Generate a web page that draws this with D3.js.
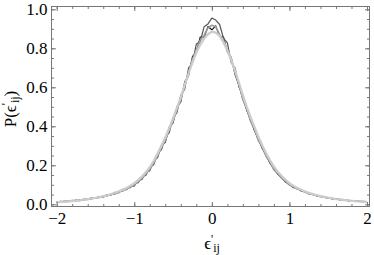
<!DOCTYPE html>
<html>
<head>
<meta charset="utf-8">
<script src="https://cdn.jsdelivr.net/npm/d3@7"></script>
<style>
  body { margin: 0; background: #fff; }
  svg text { font-family: "Liberation Serif"; }
</style>
</head>
<body>
<div id="chart"></div>
<script>
// chart size
var svgWidth = 374;
var svgHeight = 255;
var serif = "Liberation Serif";

// bins along the x axis (-2 .. 2, width 0.05)
var xBins = d3.range(81).map(i => -2 + i * 0.05);

// histograms, one list per run
var blackVals = [0.010,0.015,0.012,0.018,0.015,0.022,0.019,0.026,0.025,0.033,0.031,0.040,0.037,0.049,0.047,0.061,0.059,0.077,0.075,0.096,0.094,0.124,0.128,0.165,0.172,0.224,0.240,0.302,0.318,0.395,0.418,0.500,0.525,0.628,0.660,0.758,0.778,0.858,0.855,0.912,0.895,
  0.915,0.862,0.858,0.780,0.752,0.664,0.610,0.538,0.486,0.428,0.380,0.330,0.289,0.248,0.212,0.180,0.156,0.134,0.115,0.100,0.089,0.080,0.071,0.063,0.056,0.050,0.044,0.040,0.035,0.033,0.029,0.027,0.023,0.022,0.020,0.017,0.017,0.014,0.014,0.011];

var darkVals = [0.012,0.013,0.017,0.014,0.020,0.018,0.024,0.022,0.029,0.028,0.035,0.034,0.042,0.043,0.053,0.052,0.066,0.067,0.084,0.086,0.107,0.111,0.141,0.149,0.188,0.203,0.260,0.280,0.344,0.366,0.445,0.470,0.560,0.590,0.700,0.725,0.822,0.835,0.910,0.925,0.955,
  0.945,0.922,0.852,0.828,0.726,0.698,0.600,0.562,0.480,0.447,0.377,0.344,0.286,0.261,0.211,0.189,0.154,0.143,0.113,0.107,0.085,0.084,0.068,0.066,0.053,0.052,0.043,0.042,0.035,0.034,0.028,0.029,0.022,0.024,0.018,0.019,0.015,0.016,0.012,0.014];

var grayVals = [0.011,0.013,0.013,0.017,0.016,0.021,0.020,0.025,0.025,0.031,0.031,0.037,0.039,0.045,0.049,0.056,0.061,0.071,0.078,0.091,0.099,0.118,0.132,0.158,0.178,0.215,0.247,0.294,0.326,0.385,0.425,0.490,0.534,0.615,0.668,0.745,0.788,0.842,0.866,0.905,0.918,
  0.910,0.870,0.844,0.790,0.748,0.672,0.618,0.536,0.492,0.425,0.388,0.326,0.297,0.246,0.218,0.177,0.160,0.133,0.120,0.099,0.092,0.078,0.073,0.062,0.058,0.049,0.046,0.039,0.037,0.032,0.031,0.026,0.026,0.021,0.021,0.017,0.018,0.014,0.015,0.012];

var lightVals = [0.010,0.012,0.013,0.015,0.017,0.019,0.021,0.024,0.027,0.030,0.033,0.037,0.042,0.046,0.052,0.058,0.066,0.074,0.084,0.095,0.108,0.124,0.143,0.165,0.190,0.222,0.260,0.300,0.342,0.390,0.440,0.494,0.548,0.612,0.672,0.728,0.778,0.818,0.850,0.872,0.885,
  0.880,0.864,0.830,0.790,0.740,0.684,0.622,0.558,0.500,0.446,0.396,0.346,0.302,0.262,0.226,0.193,0.167,0.145,0.125,0.108,0.095,0.084,0.075,0.066,0.059,0.052,0.047,0.042,0.038,0.034,0.031,0.027,0.025,0.022,0.020,0.018,0.016,0.015,0.013,0.012];

// tick values
var xMajor = [-2, -1, 0, 1, 2];
var xMinor = d3.range(-2, 2.001, 0.2);
var yMajor = [0, 0.2, 0.4, 0.6, 0.8, 1.0];
var yMinor = d3.range(0, 1.001, 0.05);

// frame box
var frame = { left: 51.5, right: 369.5, top: 6.5, bottom: 206.5 };

var svg = d3.select("#chart")
  .append("svg")
  .attr("width", svgWidth)
  .attr("height", svgHeight);

var xScale = d3.scaleLinear().domain([-2, 2]).range([56.7, 367]);
var yScale = d3.scaleLinear().domain([0, 1]).range([204.3, 9.3]);

// curves (black first, light gray on top like the original)
var series = [
  { vals: blackVals, color: "#111", w: 1.1 },
  { vals: darkVals, color: "#555", w: 1.2 },
  { vals: grayVals, color: "#999", w: 1.6 },
  { vals: lightVals, color: "#cccccc", w: 2.3 }
];

var line = d3.line()
  .x((d, i) => xScale(xBins[i]))
  .y(d => yScale(d));

svg.append("g")
  .selectAll("path")
  .data(series)
  .enter()
  .append("path")
  .attr("d", d => line(d.vals))
  .attr("fill", "none")
  .attr("stroke", d => d.color)
  .attr("stroke-width", d => d.w)
  .attr("stroke-linejoin", "round");

// frame
svg.append("rect")
  .attr("x", frame.left)
  .attr("y", frame.top)
  .attr("width", frame.right - frame.left)
  .attr("height", frame.bottom - frame.top)
  .attr("fill", "none")
  .attr("stroke", "#777")
  .attr("stroke-width", 1);

var fmtMinus = d => (d < 0 ? "\u2212" + Math.abs(d) : "" + d);

// draws inward ticks on one side of the frame
function ticks(axisFn, scale, vals, len, pos, labels) {
  var a = axisFn(scale)
    .tickValues(vals)
    .tickSizeInner(-len)
    .tickSizeOuter(0);
  if (labels) {
    a.tickFormat(labels);
  } else {
    a.tickFormat("");
  }
  var g = svg.append("g")
    .attr("transform", pos)
    .call(a);
  g.attr("font-family", serif);
  g.select(".domain").remove();
  g.selectAll("line").attr("stroke", "#777");
  return g;
}

// bottom
ticks(d3.axisBottom, xScale, xMinor, 2.5, `translate(0,${frame.bottom})`, null);
var xAx = ticks(d3.axisBottom, xScale, xMajor, 4.5, `translate(0,${frame.bottom})`, fmtMinus);
xAx.attr("font-size", 17);
xAx.selectAll("text")
  .attr("y", 5)
  .attr("fill", "#000");
// top
ticks(d3.axisTop, xScale, xMinor, 2.5, `translate(0,${frame.top})`, null);
ticks(d3.axisTop, xScale, xMajor, 4.5, `translate(0,${frame.top})`, null);
// left
ticks(d3.axisLeft, yScale, yMinor, 2.5, `translate(${frame.left},0)`, null);
var yAx = ticks(d3.axisLeft, yScale, yMajor, 4.5, `translate(${frame.left},0)`, d3.format(".1f"));
yAx.attr("font-size", 17);
yAx.selectAll("text")
  .attr("x", -4)
  .attr("fill", "#000");
// right
ticks(d3.axisRight, yScale, yMinor, 2.5, `translate(${frame.right},0)`, null);
ticks(d3.axisRight, yScale, yMajor, 4.5, `translate(${frame.right},0)`, null);

// x axis label
var xl = svg.append("text")
  .attr("x", 212)
  .attr("y", 249)
  .attr("text-anchor", "middle")
  .attr("font-family", serif)
  .attr("font-size", 17);
xl.append("tspan").text("\u03F5");
xl.append("tspan").attr("dy", -6).attr("font-size", 12).text("'");
xl.append("tspan").attr("dy", 9).attr("font-size", 12).text("ij");

// y axis label
var yl = svg.append("text")
  .attr("transform", "translate(16,109) rotate(-90)")
  .attr("text-anchor", "middle")
  .attr("font-family", serif)
  .attr("font-size", 17);
yl.append("tspan").text("P(\u03F5");
yl.append("tspan").attr("dy", -6).attr("font-size", 12).text("'");
yl.append("tspan").attr("dy", 9).attr("font-size", 12).text("ij");
yl.append("tspan").attr("dy", -3).text(")");
</script>
</body>
</html>
